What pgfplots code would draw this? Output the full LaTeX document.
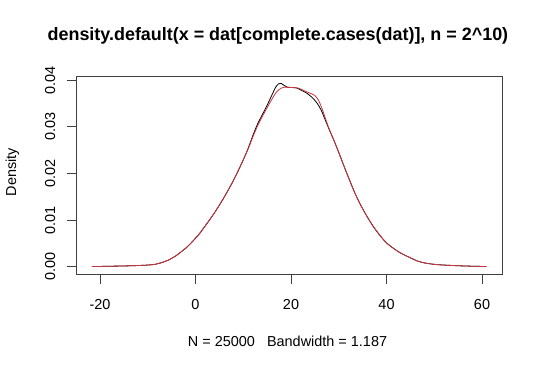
\documentclass[border=0pt]{standalone}
\usepackage{fontspec}
\setmainfont{Liberation Sans}
\usepackage{pgfplots}
\pgfplotsset{compat=1.18}
\usepackage{pgfplotstable}
\definecolor{rred}{RGB}{205,50,60}
\pgfplotstableread{
x y
-21.7 0.00002
-20 0.00005
-18 0.0001
-16 0.00013
-14 0.00018
-12 0.00025
-10 0.00035
-8.5 0.0005
-7 0.0009
-5.5 0.0015
-4 0.0024
-3 0.0032
-2 0.0040
-1 0.0050
0 0.0061
1 0.0073
2 0.0087
3 0.0101
4 0.0116
5 0.0132
6 0.0149
7 0.0167
8 0.0186
9 0.0207
10 0.0229
11 0.0253
12 0.0281
13 0.0306
14 0.0326
15 0.0346
16 0.0368
16.8 0.0385
17.4 0.0392
17.9 0.0393
18.5 0.0389
19.2 0.0385
20.2 0.0384
21.2 0.0383
22.2 0.0378
23.3 0.0372
24.5 0.0362
25.5 0.0350
26.3 0.0336
27.2 0.0314
28 0.0294
28.9 0.0273
30 0.0245
31 0.0218
32.4 0.0182
33.5 0.0155
34.7 0.0130
35.9 0.0108
37.3 0.0085
38.7 0.0066
40 0.0051
41.5 0.0039
43 0.0029
45 0.0019
46.5 0.0012
48 0.0008
50 0.0005
52 0.00035
55 0.0002
58 0.0001
60.9 0.00003
}\blackdens
\pgfplotstableread{
x y
-21.7 0.00002
-20 0.00005
-18 0.0001
-16 0.00013
-14 0.00018
-12 0.00025
-10 0.00035
-8.5 0.0005
-7 0.0009
-5.5 0.0015
-4 0.0024
-3 0.0032
-2 0.0040
-1 0.0050
0 0.0061
1 0.0073
2 0.0087
3 0.0101
4 0.0116
5 0.0132
6 0.0149
7 0.0167
8 0.0186
9 0.0207
10 0.0229
11 0.0252
12 0.0278
13 0.0302
14 0.0322
15 0.0341
16 0.0359
17 0.0375
18 0.0383
19 0.0385
20 0.0384
21 0.0384
22 0.0381
23 0.0376
24 0.0372
25 0.0367
25.8 0.0356
26.6 0.0336
27.4 0.0312
28 0.0295
28.9 0.0273
30 0.0245
31 0.0218
32.4 0.0182
33.5 0.0155
34.7 0.0130
35.9 0.0108
37.3 0.0085
38.7 0.0066
40 0.0051
41.5 0.0039
43 0.0029
45 0.0019
46.5 0.0012
48 0.0008
50 0.0005
52 0.00035
55 0.0002
58 0.0001
60.9 0.00003
}\reddens
\begin{document}
\begin{tikzpicture}[x=1bp,y=1bp]
\path[use as bounding box] (0,0) rectangle (540,370);
\begin{axis}[
  at={(76bp,96bp)}, anchor=south west,
  scale only axis, width=426bp, height=198bp,
  xmin=-25.03, xmax=64.19, ymin=-0.00157, ymax=0.04088,
  xtick={-20,0,20,40,60}, ytick={0,0.01,0.02,0.03,0.04},
  tick align=outside, xtick pos=left, ytick pos=left,
  major tick length=9.5bp,
  axis line style={black!75, line width=0.8bp},
  every tick/.style={black!75, line width=0.8bp},
  scaled y ticks=false,
  /pgf/number format/assume math mode=true,
  yticklabel={\pgfmathprintnumber[fixed,fixed zerofill,precision=2]{\tick}},
  tick label style={font=\fontsize{14.5}{17}\selectfont, inner sep=0pt},
  xticklabel style={anchor=base},
  xticklabel shift=25.5bp,
  yticklabel style={rotate=90, anchor=base},
  yticklabel shift=11.5bp,
  title={density.default(x = dat[complete.cases(dat)], n = 2\textasciicircum 10)},
  title style={at={(0.474,1.149)}, anchor=base, inner sep=0pt, font=\bfseries\fontsize{18}{21}\selectfont},
  xlabel={N = 25000\ \ \ Bandwidth = 1.187},
  xlabel style={at={(0.4965,-0.367)}, anchor=base, inner sep=0pt, font=\fontsize{14.5}{17}\selectfont},
  ylabel={Density},
  ylabel style={at={(-0.1408,0.515)}, anchor=base, inner sep=0pt, rotate=0, font=\fontsize{14.5}{17}\selectfont},
]
\addplot[black, line width=0.8bp, smooth, tension=0.4] table {\blackdens};
\addplot[rred, line width=0.8bp, smooth, tension=0.4] table {\reddens};
\end{axis}
\end{tikzpicture}
\end{document}
